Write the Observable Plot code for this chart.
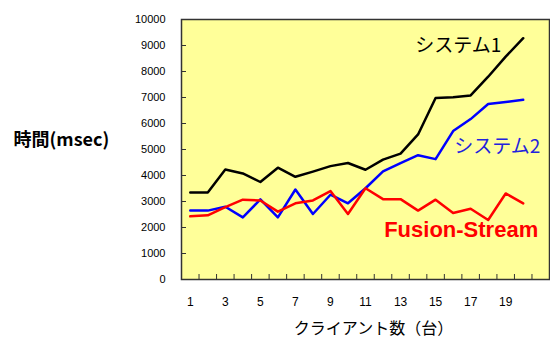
<!DOCTYPE html>
<html>
<head>
<meta charset="utf-8">
<script src="https://cdn.jsdelivr.net/npm/d3@7"></script>
<script src="https://cdn.jsdelivr.net/npm/@observablehq/plot@0.6"></script>
<style>
  html, body { margin: 0; padding: 0; background: #fff; }
</style>
</head>
<body>
<div id="chart"></div>
<script>
const clients = d3.range(1, 21);
const seriesNames = ["システム1", "システム2", "Fusion-Stream"];
const system1 = [3350, 3350, 4230, 4080, 3750, 4300, 3950, 4150, 4360, 4480, 4220, 4610, 4840, 5580, 6980, 7010, 7080, 7800, 8570, 9280];
const system2 = [2650, 2650, 2800, 2390, 3080, 2390, 3460, 2520, 3260, 2930, 3510, 4160, 4480, 4780, 4630, 5710, 6170, 6750, 6830, 6910];
const fusion  = [2430, 2470, 2780, 3070, 3040, 2610, 2930, 3040, 3400, 2520, 3510, 3090, 3090, 2650, 3070, 2560, 2720, 2290, 3310, 2930];
const yTicks = d3.range(0, 10001, 1000);
const xTickLabels = [1, 3, 5, 7, 9, 11, 13, 15, 17, 19];
const xTickMarks = d3.range(1.5, 21, 1);
const yTitle = "時間(msec)";
const xTitle = "クライアント数（台）";

const rows = [system1, system2, fusion].flatMap((vals, s) =>
  clients.map((c, i) => ({client: c, value: vals[i], series: seriesNames[s]})));
const bySeries = name => rows.filter(d => d.series === name);

const jp = "'Noto Sans CJK JP', 'Noto Sans', sans-serif";
const num = "'Liberation Sans', Arial, sans-serif";

const chart = Plot.plot({
  width: 550,
  height: 337,
  marginLeft: 181,
  marginRight: 1,
  marginTop: 19,
  marginBottom: 58,
  style: {fontFamily: num, fontSize: "11px", color: "#000", background: "#fff"},
  x: {domain: [0.5, 21.5], label: null},
  y: {domain: [0, 10000], label: null},
  color: {domain: seriesNames, range: ["#000000", "#0000FF", "#FF0000"]},
  marks: [
    Plot.frame({fill: "#FFFF99"}),
    Plot.axisY({ticks: yTicks, tickSize: 5, dx: 5, tickFormat: () => "", stroke: "#333", label: null}),
    Plot.axisY({ticks: yTicks, tickSize: 0, tickPadding: 16, tickFormat: d => String(d), fontSize: 11, label: null}),
    Plot.axisX({ticks: xTickMarks, tickSize: 5, dy: -5, tickFormat: () => "", stroke: "#333", label: null}),
    Plot.axisX({ticks: xTickLabels, tickSize: 0, tickPadding: 18, tickFormat: d => String(d), fontSize: 12, letterSpacing: "1.5px", label: null}),
    Plot.line(rows, {x: "client", y: "value", z: "series", stroke: "series", strokeWidth: 2.5}),
    Plot.text(bySeries("システム1"), Plot.selectLast({x: "client", y: "value", text: "series", textAnchor: "end", dx: -22, dy: 8, fontSize: 19, fontFamily: jp, fill: "#000"})),
    Plot.text(bySeries("システム2"), Plot.selectLast({x: "client", y: "value", text: "series", textAnchor: "end", dx: 17, dy: 47, fontSize: 19, fontFamily: jp, fill: "#2222DD"})),
    Plot.text(bySeries("Fusion-Stream"), Plot.selectLast({x: "client", y: "value", text: "series", textAnchor: "end", dx: 15, dy: 27, fontSize: 22, fontWeight: "bold", fontFamily: num, fill: "#FF0000"})),
    Plot.text([yTitle], {text: d => d, frameAnchor: "left", textAnchor: "start", dx: -168, dy: -9, fontSize: 18, fontWeight: "bold", fontFamily: jp, fill: "#000"}),
    Plot.text([xTitle], {text: d => d, frameAnchor: "bottom", dx: 8, dy: 54, fontSize: 16, fontFamily: jp, fill: "#000"}),
    Plot.frame({stroke: "#333", strokeWidth: 1.5})
  ]
});
document.getElementById("chart").appendChild(chart);
</script>
</body>
</html>
